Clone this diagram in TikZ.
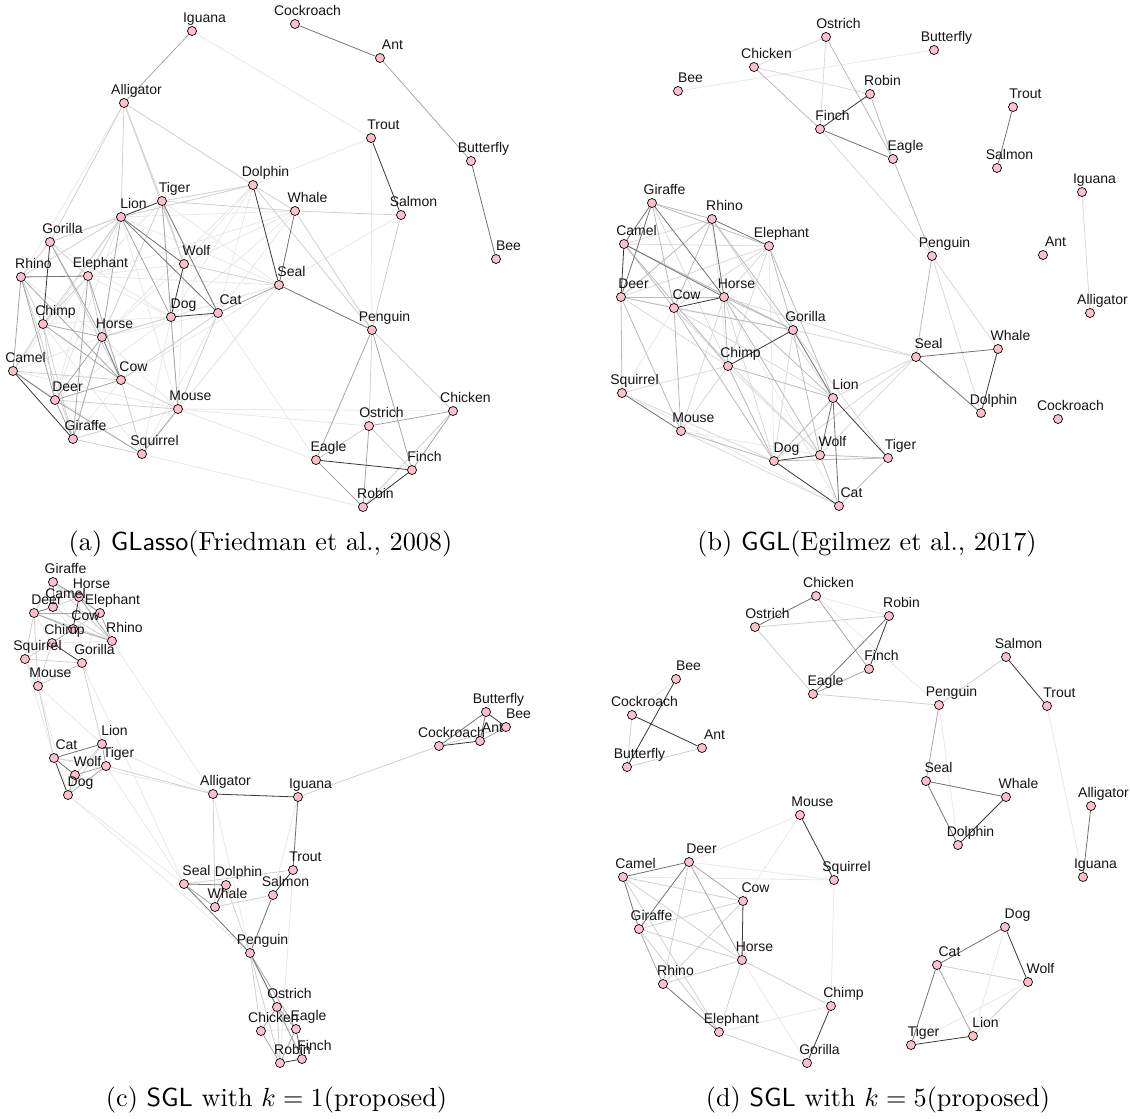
\documentclass[tikz,border=0pt]{standalone}
\usepackage{fontspec}
\newfontfamily\lblfont{Liberation Sans}
\definecolor{vpink}{HTML}{FFC0CB}
\pgfdeclarelayer{bg}
\pgfsetlayers{bg,main}
\tikzset{
  v/.style={circle,draw=black,fill=vpink,line width=0.7pt,minimum size=9pt,inner sep=0pt},
  lab/.style={font=\lblfont\fontsize{14}{16}\selectfont,anchor=base,inner sep=0pt,text=black!92},
  captext/.style={font=\fontsize{10}{12}\selectfont,anchor=base,inner sep=0pt,scale=2.62},
  ee/.style={draw=black!78,line width=0.8pt},
  ed/.style={draw=black!55,line width=0.8pt},
  ec/.style={draw=black!35,line width=0.8pt},
  ebc/.style={draw=black!27,line width=0.8pt},
  eb/.style={draw=black!19,line width=0.8pt},
  ebb/.style={draw=black!15,line width=0.8pt},
  ea/.style={draw=black!9,line width=0.8pt},
}
\newcommand\VSet[2]{\foreach \n/\x/\y in #2 {\node[v] (#1\n) at (\x,\y) {};}}
\newcommand\LSet[2]{\foreach \n/\x/\y in #2 {\node[lab] (#1L\n) at ([xshift=12.5pt,yshift=8.3pt]#1\n.center) {\n};}}
\newcommand\ESet[3]{\foreach \p/\q in {#3} {\draw[#2] (#1\p) -- (#1\q);}}
\def\posA{Iguana/192/31, Cockroach/295/24, Ant/380/58, Alligator/124/103, Trout/371/138, Butterfly/471/161, Dolphin/253/185, Tiger/162/201, Whale/295/211, Salmon/401/215, Lion/121/217, Gorilla/50/242, Bee/496/259, Wolf/184/264, Elephant/88/276, Rhino/21/277, Seal/279/285, Cat/218/313, Dog/171/317, Chimp/43/324, Penguin/372/330, Horse/102/337, Camel/13/371, Cow/121/380, Deer/55/400, Mouse/178/409, Chicken/453/411, Ostrich/369/426, Giraffe/73/439, Squirrel/142/454, Eagle/316/460, Finch/412/470, Robin/363/507}
\def\posB{Ostrich/826/37, Butterfly/934/50, Chicken/754/67, Bee/678/91, Robin/870/94, Trout/1013/107, Finch/820/129, Eagle/893/159, Salmon/997/168, Iguana/1082/192, Giraffe/652/203, Rhino/712/219, Camel/624/244, Elephant/769/246, Penguin/932/256, Ant/1043/255, Deer/621/297, Horse/724/297, Cow/674/308, Alligator/1090/313, Gorilla/793/330, Whale/998/349, Seal/916/357, Chimp/728/366, Squirrel/622/393, Lion/833/398, Dolphin/981/413, Cockroach/1058/419, Mouse/681/431, Wolf/820/455, Tiger/888/458, Dog/774/461, Cat/839/506}
\def\posC{Giraffe/53/582, Horse/79/597, Camel/53/607, Deer/34/613, Elephant/100/613, Cow/73/629, Rhino/112/641, Chimp/52/643, Squirrel/25/659, Gorilla/82/663, Mouse/38/686, Butterfly/486/712, Bee/506/727, Ant/480/741, Lion/102/744, Cockroach/439/746, Cat/54/758, Tiger/106/766, Wolf/75/775, Alligator/213/794, Dog/68/795, Iguana/298/797, Trout/293/870, Seal/184/884, Dolphin/226/885, Salmon/273/895, Whale/215/907, Penguin/250/953, Ostrich/277/1007, Eagle/296/1029, Chicken/261/1031, Finch/302/1059, Robin/280/1063}
\def\posD{Chicken/816/596, Robin/889/616, Ostrich/755/627, Salmon/1006/657, Finch/869/669, Bee/676/679, Eagle/813/694, Penguin/939/705, Trout/1047/706, Cockroach/632/715, Ant/702/748, Butterfly/627/767, Seal/926/781, Whale/1006/797, Alligator/1091/806, Mouse/800/815, Dolphin/958/845, Deer/689/862, Camel/623/877, Iguana/1083/877, Squirrel/834/880, Cow/743/901, Dog/1005/927, Giraffe/639/929, Horse/742/960, Cat/937/965, Wolf/1028/982, Rhino/663/984, Chimp/831/1006, Elephant/719/1032, Lion/973/1036, Tiger/911/1045, Gorilla/807/1063}
\begin{document}
\begin{tikzpicture}[x=1pt,y=-1pt]
\useasboundingbox (0,0) rectangle (1130,1119);
\VSet{a}{\posA}
\VSet{b}{\posB}
\VSet{c}{\posC}
\VSet{d}{\posD}
\begin{pgfonlayer}{bg}
% ---------- panel a
\ESet{a}{ea}{Iguana/Trout, Trout/Dolphin, Trout/Penguin, Seal/Salmon, Camel/Mouse, Dolphin/Wolf, Dolphin/Dog, Dolphin/Cat, Whale/Lion, Whale/Wolf, Whale/Elephant, Seal/Lion, Seal/Dog, Seal/Horse, Seal/Mouse, Seal/Elephant, Cat/Eagle, Mouse/Ostrich, Mouse/Chicken, Squirrel/Robin, Mouse/Eagle, Alligator/Rhino, Gorilla/Dog, Tiger/Elephant, Tiger/Gorilla, Wolf/Horse, Wolf/Elephant, Cat/Horse, Dog/Elephant, Dog/Chimp, Dog/Deer, Cat/Squirrel, Mouse/Horse, Squirrel/Chimp, Camel/Elephant, Camel/Horse, Tiger/Mouse, Wolf/Mouse, Dog/Squirrel, Rhino/Horse, Deer/Elephant, Camel/Squirrel, Giraffe/Cow, Lion/Mouse, Lion/Deer, Lion/Camel, Seal/Tiger, Whale/Dog, Dolphin/Horse, Whale/Cat, Seal/Cow, Seal/Squirrel}
\ESet{a}{eb}{Alligator/Lion, Alligator/Tiger, Alligator/Wolf, Alligator/Dolphin, Alligator/Gorilla, Camel/Cow, Deer/Mouse, Rhino/Giraffe, Gorilla/Cow, Gorilla/Elephant, Chimp/Giraffe, Chimp/Deer, Elephant/Horse, Horse/Dog, Cow/Squirrel, Cow/Mouse, Mouse/Cat, Giraffe/Squirrel, Wolf/Seal, Tiger/Dolphin, Dolphin/Whale, Whale/Salmon, Dolphin/Penguin, Whale/Penguin, Salmon/Penguin, Penguin/Ostrich, Penguin/Chicken, Ostrich/Eagle, Ostrich/Finch, Chicken/Robin, Lion/Elephant, Lion/Gorilla, Lion/Rhino, Lion/Chimp, Gorilla/Rhino, Chimp/Camel, Rhino/Chimp, Elephant/Chimp, Tiger/Wolf, Tiger/Horse, Giraffe/Mouse, Cow/Cat, Dolphin/Lion, Whale/Tiger}
\ESet{a}{ec}{Iguana/Alligator, Ant/Butterfly, Tiger/Dog, Lion/Horse, Lion/Dog, Camel/Rhino, Deer/Giraffe, Deer/Cow, Deer/Horse, Deer/Squirrel, Rhino/Deer, Gorilla/Horse, Chimp/Horse, Elephant/Giraffe, Elephant/Cow, Horse/Giraffe, Mouse/Squirrel, Mouse/Dog, Cat/Seal, Penguin/Eagle, Penguin/Finch, Ostrich/Chicken, Ostrich/Robin, Eagle/Robin, Chicken/Finch, Rhino/Cow, Chimp/Cow}
\ESet{a}{ed}{Horse/Cow, Camel/Deer, Lion/Wolf, Lion/Cat, Whale/Seal, Seal/Penguin, Cockroach/Ant, Butterfly/Bee, Rhino/Elephant, Tiger/Cat}
\ESet{a}{ee}{Lion/Tiger, Gorilla/Chimp, Wolf/Dog, Dog/Cat, Trout/Salmon, Dolphin/Seal, Eagle/Finch, Robin/Finch, Camel/Giraffe}
% ---------- panel b
\ESet{b}{ea}{Bee/Butterfly, Squirrel/Cat, Squirrel/Cow, Deer/Gorilla, Rhino/Chimp, Mouse/Wolf, Horse/Cat, Elephant/Dog, Cow/Chimp}
\ESet{b}{ebb}{Ostrich/Chicken, Ostrich/Finch, Chicken/Robin, Finch/Penguin, Iguana/Alligator, Penguin/Whale, Penguin/Dolphin, Seal/Gorilla, Seal/Lion, Seal/Dog, Seal/Wolf, Seal/Horse, Rhino/Camel, Camel/Elephant, Elephant/Deer, Elephant/Cow, Elephant/Horse, Elephant/Chimp, Deer/Chimp, Chimp/Squirrel, Chimp/Mouse, Chimp/Wolf, Horse/Dog, Horse/Mouse, Gorilla/Dog, Gorilla/Tiger, Squirrel/Dog, Mouse/Cat, Rhino/Lion, Cow/Lion, Cow/Wolf, Giraffe/Chimp}
\ESet{b}{ebc}{Chicken/Finch, Ostrich/Eagle, Robin/Eagle, Eagle/Penguin, Penguin/Seal, Giraffe/Rhino, Giraffe/Elephant, Giraffe/Cow, Rhino/Cow, Rhino/Gorilla, Camel/Cow, Camel/Gorilla, Elephant/Gorilla, Elephant/Lion, Deer/Cow, Deer/Horse, Deer/Mouse, Cow/Gorilla, Cow/Dog, Horse/Chimp, Horse/Gorilla, Horse/Wolf, Horse/Lion, Chimp/Dog, Chimp/Lion, Mouse/Dog, Wolf/Cat, Wolf/Tiger, Dog/Tiger, Cat/Tiger, Lion/Dog, Camel/Chimp, Gorilla/Wolf, Deer/Squirrel, Cow/Mouse, Rhino/Deer}
\ESet{b}{ed}{Finch/Eagle, Trout/Salmon, Seal/Dolphin, Seal/Whale, Rhino/Elephant, Giraffe/Camel, Giraffe/Deer, Lion/Wolf, Lion/Cat, Gorilla/Lion, Rhino/Horse, Camel/Horse, Giraffe/Horse, Squirrel/Mouse}
\ESet{b}{ee}{Robin/Finch, Whale/Dolphin, Gorilla/Chimp, Wolf/Dog, Dog/Cat, Lion/Tiger, Camel/Deer, Cow/Horse}
% ---------- panel c
\ESet{c}{ea}{Rhino/Alligator, Alligator/Penguin, Lion/Alligator, Cat/Alligator, Mouse/Dog, Dog/Seal, Gorilla/Seal, Iguana/Salmon, Iguana/Robin, Chicken/Eagle, Deer/Chimp, Camel/Cow, Horse/Gorilla, Giraffe/Cow, Squirrel/Cat, Mouse/Lion, Tiger/Seal, Rhino/Gorilla, Elephant/Gorilla, Dog/Penguin, Chimp/Rhino}
\ESet{c}{eb}{Whale/Salmon, Dolphin/Penguin, Iguana/Cockroach, Penguin/Chicken, Penguin/Robin, Penguin/Finch, Ostrich/Robin, Giraffe/Elephant, Giraffe/Rhino, Camel/Horse, Deer/Squirrel, Deer/Mouse, Chimp/Squirrel, Chimp/Mouse, Squirrel/Mouse, Camel/Rhino, Giraffe/Deer, Deer/Rhino, Gorilla/Mouse, Gorilla/Squirrel, Elephant/Cow, Lion/Wolf, Lion/Dog, Cat/Tiger, Cockroach/Bee, Tiger/Alligator, Seal/Trout, Mouse/Cat, Gorilla/Lion, Alligator/Whale}
\ESet{c}{ec}{Seal/Whale, Lion/Tiger, Wolf/Tiger, Dog/Tiger, Wolf/Dog, Bee/Ant, Ostrich/Chicken, Ostrich/Eagle, Ostrich/Finch, Chicken/Robin, Eagle/Robin, Penguin/Eagle, Giraffe/Horse, Elephant/Rhino, Horse/Rhino, Deer/Elephant, Cow/Rhino, Giraffe/Camel, Horse/Elephant, Deer/Cow, Cow/Chimp}
\ESet{c}{ed}{Seal/Penguin, Seal/Dolphin, Iguana/Trout, Lion/Cat, Cat/Wolf, Butterfly/Ant, Butterfly/Cockroach, Camel/Deer, Penguin/Ostrich, Eagle/Finch, Salmon/Penguin}
\ESet{c}{ee}{Alligator/Iguana, Chimp/Gorilla, Horse/Cow, Cat/Dog, Trout/Salmon, Dolphin/Whale, Robin/Finch, Butterfly/Bee, Cockroach/Ant}
% ---------- panel d
\ESet{d}{ea}{Chicken/Robin, Chicken/Penguin, Trout/Iguana, Penguin/Dolphin, Bee/Cockroach, Deer/Squirrel, Camel/Squirrel, Horse/Gorilla, Elephant/Chimp, Chimp/Squirrel, Dog/Lion, Wolf/Tiger, Mouse/Deer, Mouse/Cow}
\ESet{d}{eb}{Ostrich/Robin, Ostrich/Eagle, Eagle/Penguin, Salmon/Penguin, Cockroach/Butterfly, Butterfly/Ant, Camel/Cow, Camel/Horse, Giraffe/Cow, Giraffe/Horse, Horse/Rhino, Horse/Elephant, Horse/Chimp, Cow/Rhino, Elephant/Gorilla, Camel/Elephant, Deer/Rhino, Cat/Wolf, Wolf/Lion, Giraffe/Elephant}
\ESet{d}{ec}{Chicken/Finch, Eagle/Finch, Penguin/Seal, Deer/Cow, Deer/Horse, Giraffe/Rhino, Cat/Lion}
\ESet{d}{ed}{Chicken/Ostrich, Robin/Eagle, Seal/Dolphin, Seal/Whale, Alligator/Iguana, Camel/Deer, Camel/Giraffe, Rhino/Elephant, Dog/Cat, Cat/Tiger, Deer/Giraffe}
\ESet{d}{ee}{Salmon/Trout, Robin/Finch, Whale/Dolphin, Bee/Butterfly, Cockroach/Ant, Mouse/Squirrel, Cow/Horse, Chimp/Gorilla, Dog/Wolf, Tiger/Lion}
\end{pgfonlayer}
\LSet{a}{\posA}
\LSet{b}{\posB}
\LSet{c}{\posC}
\LSet{d}{\posD}
\node[captext] (capA) at (260.5,550) {(a) \textsf{GLasso}(Friedman et al., 2008)};
\node[captext] (capB) at (867,550) {(b) \textsf{GGL}(Egilmez et al., 2017)};
\node[captext] (capC) at (276.5,1106) {(c) \textsf{SGL} with $k=1$(proposed)};
\node[captext] (capD) at (878,1106) {(d) \textsf{SGL} with $k=5$(proposed)};
\end{tikzpicture}
\end{document}
